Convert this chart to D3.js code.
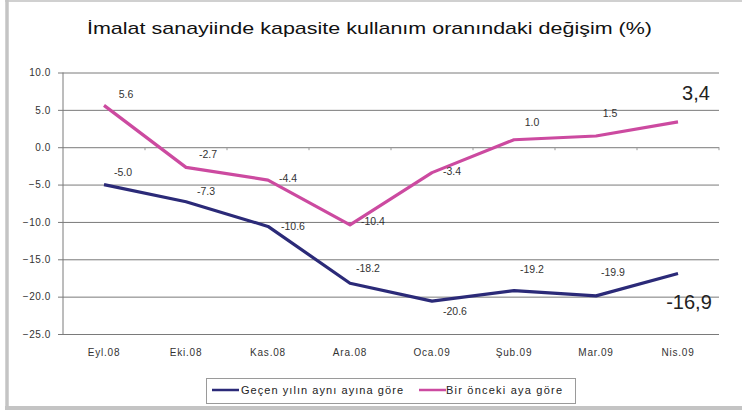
<!DOCTYPE html>
<html>
<head>
<meta charset="utf-8">
<script src="https://cdn.jsdelivr.net/npm/d3@7"></script>
<style>
    body { margin: 0; background: #fff; }
    text { font-family: "Liberation Sans", Arial, sans-serif; }
</style>
</head>
<body>
<div id="chart"></div>
<script>
// categories and values
let months = ["Eyl.08", "Eki.08", "Kas.08", "Ara.08", "Oca.09", "Şub.09", "Mar.09", "Nis.09"];
let yoy = [-5.0, -7.3, -10.6, -18.2, -20.6, -19.2, -19.9, -16.9];
let mom = [5.6, -2.7, -4.4, -10.4, -3.4, 1.0, 1.5, 3.4];
let yTicks = [10, 5, 0, -5, -10, -15, -20, -25];

// label nudges (dx, dy) relative to each point
let yoyNudge = [[19, -9], [20, -7], [25, 4], [18, -11], [23, 14], [18, -18], [17, -20], [11, 36]];
let momNudge = [[22, -7], [22, -9], [20, 2], [23, 0], [20, 2], [18, -14], [14, -19], [18, -22]];

let width = 742, height = 412;
let margin = { top: 72.5, left: 63, right: 23, bottom: 78 };

let svg = d3.select("#chart")
    .append("svg")
    .attr("width", width)
    .attr("height", height);

// outer frame: top line, left and bottom bars
svg.append("line")
    .attr("x1", 5).attr("x2", width).attr("y1", 1).attr("y2", 1)
    .attr("stroke", "#d0d0d0").attr("stroke-width", 2);
svg.append("line")
    .attr("x1", 7).attr("x2", 7).attr("y1", 0).attr("y2", 410)
    .attr("stroke", "#c4c4c4").attr("stroke-width", 3.5);
svg.append("line")
    .attr("x1", 5).attr("x2", width).attr("y1", 408).attr("y2", 408)
    .attr("stroke", "#c4c4c4").attr("stroke-width", 4);

svg.append("text")
    .attr("x", 87).attr("y", 34)
    .attr("font-size", 17)
    .attr("textLength", 565)
    .attr("lengthAdjust", "spacingAndGlyphs")
    .attr("fill", "#111")
    .text("İmalat sanayiinde kapasite kullanım oranındaki değişim (%)");

let x = d3.scaleBand()
    .domain(months)
    .range([margin.left, width - margin.right]);

let y = d3.scaleLinear()
    .domain([-25, 10])
    .range([height - margin.bottom, margin.top]);

// gridlines + y axis
let yAxis = d3.axisLeft(y)
    .tickValues(yTicks)
    .tickSize(0)
    .tickFormat(d3.format(".1f"));

let gy = svg.append("g")
    .attr("transform", `translate(${margin.left},0)`)
    .call(yAxis);
gy.select(".domain").remove();
gy.selectAll(".tick line")
    .attr("x1", -5)
    .attr("x2", width - margin.right - margin.left)
    .attr("stroke", "#7a7a7a");
gy.selectAll(".tick text")
    .attr("x", -12)
    .attr("font-size", 10)
    .attr("fill", "#333")
    .attr("letter-spacing", 0.6);

svg.append("line")
    .attr("x1", margin.left).attr("x2", margin.left)
    .attr("y1", y(10)).attr("y2", y(-25))
    .attr("stroke", "#7a7a7a");

// small ticks at band boundaries on the zero line
svg.append("g")
    .selectAll("line")
    .data(months)
    .enter()
    .append("line")
    .attr("x1", (d) => x(d) + x.bandwidth())
    .attr("x2", (d) => x(d) + x.bandwidth())
    .attr("y1", y(0))
    .attr("y2", y(0) + 3)
    .attr("stroke", "#999");

// x labels
svg.append("g")
    .selectAll("text")
    .data(months)
    .enter()
    .append("text")
    .attr("x", (d) => x(d) + x.bandwidth() / 2)
    .attr("y", 356)
    .attr("text-anchor", "middle")
    .attr("font-size", 10)
    .attr("letter-spacing", 0.8)
    .attr("fill", "#333")
    .text((d) => d);

let line = d3.line()
    .x((d, i) => x(months[i]) + x.bandwidth() / 2)
    .y((d) => y(d));

let series = [
    { name: "Geçen yılın aynı ayına göre", values: yoy, nudge: yoyNudge, colour: "#2b2a78" },
    { name: "Bir önceki aya göre", values: mom, nudge: momNudge, colour: "#cc4aa0" }
];

series.forEach((s) => {
    svg.append("path")
        .datum(s.values)
        .attr("d", line)
        .attr("fill", "none")
        .attr("stroke", s.colour)
        .attr("stroke-width", 3.2)
        .attr("stroke-linejoin", "round");

    // the last value gets a big label with a comma
    let last = s.values.length - 1;
    svg.append("g")
        .selectAll("text")
        .data(s.values)
        .enter()
        .append("text")
        .attr("x", (d, i) => x(months[i]) + x.bandwidth() / 2 + s.nudge[i][0])
        .attr("y", (d, i) => y(d) + s.nudge[i][1])
        .attr("text-anchor", "middle")
        .attr("font-size", (d, i) => i == last ? 20 : 10.5)
        .attr("fill", (d, i) => i == last ? "#222" : "#333")
        .text((d, i) => i == last ? d.toFixed(1).replace(".", ",") : d.toFixed(1));
});

// legend
let legend = svg.append("g");
legend.append("rect")
    .attr("x", 206.5).attr("y", 378.5)
    .attr("width", 369).attr("height", 25)
    .attr("fill", "#fff")
    .attr("stroke", "#9a9a9a");

let legendPos = [[212, 241, 162], [419, 446, 116]];
series.forEach((s, i) => {
    legend.append("line")
        .attr("x1", legendPos[i][0]).attr("x2", legendPos[i][0] + 27)
        .attr("y1", 390).attr("y2", 390)
        .attr("stroke", s.colour)
        .attr("stroke-width", 2.5);
    legend.append("text")
        .attr("x", legendPos[i][1])
        .attr("y", 394)
        .attr("font-size", 11)
        .attr("textLength", legendPos[i][2])
        .attr("lengthAdjust", "spacing")
        .attr("fill", "#222")
        .text(s.name);
});
</script>
</body>
</html>
